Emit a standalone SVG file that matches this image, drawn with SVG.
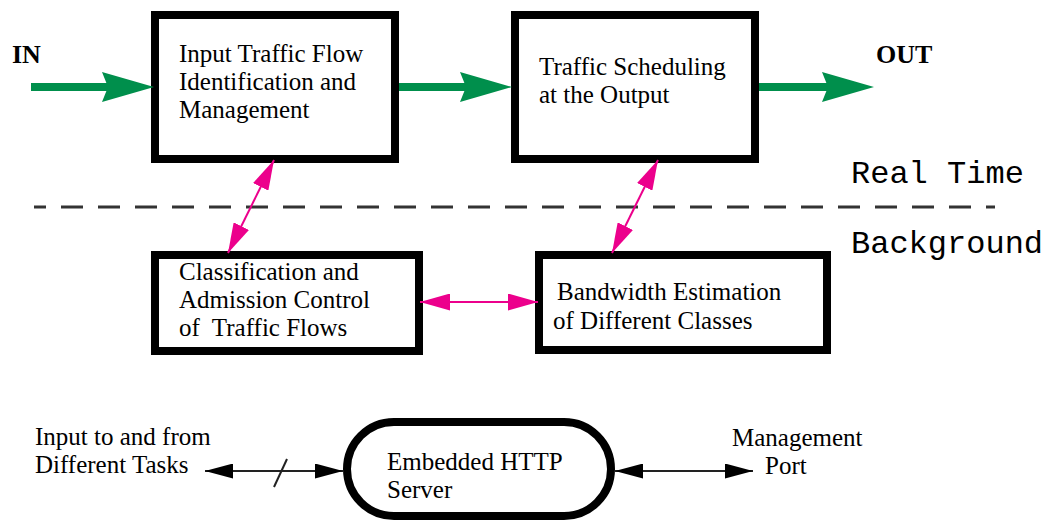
<svg xmlns="http://www.w3.org/2000/svg" width="1044" height="521" viewBox="0 0 1044 521">
  <style>
    .box { fill: #ffffff; stroke: #000000; stroke-width: 8; }
    .t { font-family: "Liberation Serif", "Times New Roman", serif; font-size: 25px; fill: #000000; }
    .b { font-family: "Liberation Serif", "Times New Roman", serif; font-size: 26px; font-weight: bold; fill: #000000; }
    .m { font-family: "Liberation Mono", "Courier New", monospace; font-size: 32px; fill: #000000; }
    .green { stroke: #008f4c; stroke-width: 8; fill: none; }
    .pink { stroke: #ec008c; stroke-width: 2; fill: none; }
    .blk { stroke: #222222; stroke-width: 2; fill: none; }
    .dash { stroke: #333333; stroke-width: 3; stroke-dasharray: 22 15; stroke-dashoffset: 10; fill: none; }
  </style>
  <defs>
    <marker id="ga" markerUnits="userSpaceOnUse" viewBox="0 0 52 30" refX="6" refY="15" markerWidth="52" markerHeight="30" orient="auto">
      <path d="M0,0 L52,15 L0,30 L6,15 Z" fill="#008f4c"/>
    </marker>
    <marker id="pa" markerUnits="userSpaceOnUse" viewBox="0 0 30 17" refX="30" refY="8.5" markerWidth="30" markerHeight="17" orient="auto-start-reverse">
      <path d="M0,0 L30,8.5 L0,17 Z" fill="#ec008c"/>
    </marker>
    <marker id="ba" markerUnits="userSpaceOnUse" viewBox="0 0 28 15" refX="28" refY="7.5" markerWidth="28" markerHeight="15" orient="auto-start-reverse">
      <path d="M0,0 L28,7.5 L0,15 Z" fill="#000000"/>
    </marker>
  </defs>

  <g id="labels">
    <text class="b" x="12" y="63">IN</text>
    <text class="b" x="876" y="63">OUT</text>
    <text class="m" x="851" y="183">Real Time</text>
    <text class="m" x="851" y="253">Background</text>
    <text class="t" x="35" y="445">Input to and from</text>
    <text class="t" x="35" y="473">Different Tasks</text>
    <text class="t" x="732" y="446">Management</text>
    <text class="t" x="765" y="474">Port</text>
  </g>

  <g id="node-input-traffic">
    <rect class="box" x="155" y="15" width="240" height="144"/>
    <text class="t" x="179" y="62">Input Traffic Flow</text>
    <text class="t" x="179" y="90">Identification and</text>
    <text class="t" x="179" y="118">Management</text>
  </g>

  <g id="node-scheduling">
    <rect class="box" x="515" y="15" width="240" height="144"/>
    <text class="t" x="539" y="75">Traffic Scheduling</text>
    <text class="t" x="539" y="103">at the Output</text>
  </g>

  <g id="node-classification">
    <rect class="box" x="155" y="255" width="264" height="96"/>
    <text class="t" x="179" y="280">Classification and</text>
    <text class="t" x="179" y="308">Admission Control</text>
    <text class="t" x="179" y="336" style="white-space:pre">of  Traffic Flows</text>
  </g>

  <g id="node-bandwidth">
    <rect class="box" x="539" y="255" width="288" height="95"/>
    <text class="t" x="557" y="300">Bandwidth Estimation</text>
    <text class="t" x="553" y="329">of Different Classes</text>
  </g>

  <g id="node-http">
    <rect class="box" x="347" y="422" width="264" height="94" rx="47" ry="47"/>
    <text class="t" x="387" y="470">Embedded HTTP</text>
    <text class="t" x="387" y="498">Server</text>
  </g>

  <g id="connectors">
    <line class="dash" x1="34" y1="207" x2="995" y2="207"/>
    <line class="green" x1="31" y1="87" x2="108" y2="87" marker-end="url(#ga)"/>
    <line class="green" x1="399" y1="87" x2="466" y2="87" marker-end="url(#ga)"/>
    <line class="green" x1="759" y1="87" x2="828" y2="87" marker-end="url(#ga)"/>
    <line class="pink" x1="274" y1="160" x2="228" y2="253" marker-start="url(#pa)" marker-end="url(#pa)"/>
    <line class="pink" x1="658" y1="160" x2="612" y2="253" marker-start="url(#pa)" marker-end="url(#pa)"/>
    <line class="pink" x1="420" y1="302" x2="538" y2="302" marker-start="url(#pa)" marker-end="url(#pa)"/>
    <line class="blk" x1="205" y1="471" x2="343" y2="471" marker-start="url(#ba)" marker-end="url(#ba)"/>
    <line class="blk" x1="274" y1="487" x2="287" y2="459"/>
    <line class="blk" x1="615" y1="471" x2="753" y2="471" marker-start="url(#ba)" marker-end="url(#ba)"/>
  </g>
</svg>
